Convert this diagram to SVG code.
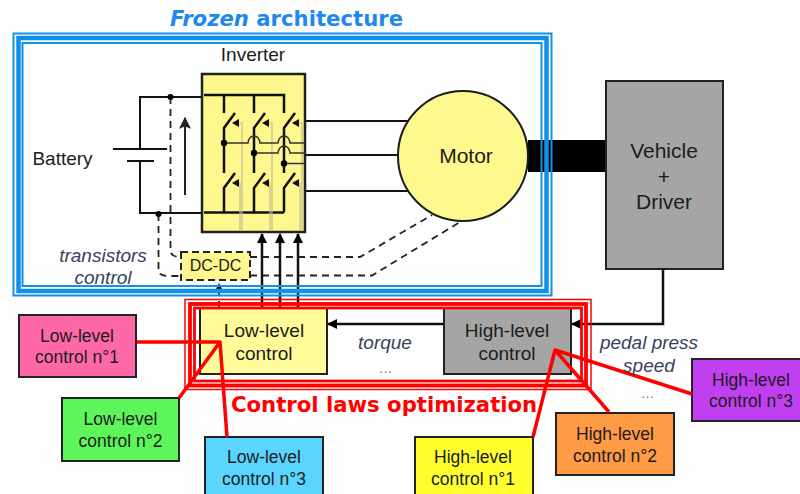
<svg xmlns="http://www.w3.org/2000/svg" width="800" height="494" viewBox="0 0 800 494">
<style>
text{font-family:"Liberation Sans",Arial,sans-serif;fill:#1c1c1c;text-anchor:middle}
.s19{font-size:19px}.s17{font-size:17.5px}.s21{font-size:21px}
.lab{font-size:19px;font-style:italic;fill:#38425c}
.dots{font-size:14px;font-style:italic;fill:#6a7080}
.head{font-family:"DejaVu Sans",sans-serif;font-weight:bold;font-size:21.2px;text-anchor:start}
.box{stroke:#222;stroke-width:2}
.w{fill:none;stroke:#111;stroke-width:2}
.b{fill:none;stroke:#111;stroke-width:2.500}
.t{fill:none;stroke:#333;stroke-width:1.500}
.g{fill:none;stroke:#c2bd95;stroke-width:1.200}
.d{fill:none;stroke:#222;stroke-width:1.800;stroke-dasharray:7 5}
.r{fill:none;stroke:#f00;stroke-width:3.500;stroke-linejoin:round}
.fb{fill:none;stroke:#1190ea}
.fr{fill:none;stroke:#f00}
</style>
<defs>
<marker id="arr" viewBox="0 0 10 10" refX="9" refY="5" markerWidth="10" markerHeight="10" markerUnits="userSpaceOnUse" orient="auto"><path d="M0 0L10 5L0 10Z" fill="#000"/></marker>
<marker id="arrL" viewBox="0 0 10 10" refX="9" refY="5" markerWidth="12" markerHeight="12" markerUnits="userSpaceOnUse" orient="auto"><path d="M0 0L10 5L0 10L2 5Z" fill="#222"/></marker>
</defs>
<rect width="800" height="494" fill="#fefefe"/>

<g id="connectors">
<rect x="528" y="140" width="78" height="32" fill="#000"/>
<path class="w" d="M202 97H140V149M113 149H167M127 161H154M140 161V213H202"/>
<path d="M185 195V118" fill="none" stroke="#222" stroke-width="2" marker-end="url(#arrL)"/>
<path class="d" d="M170.500 97V250Q170.500 257 180 257"/>
<path class="d" d="M158.500 214V270Q158.500 276 168 276H181"/>
<path class="d" d="M250 257H360L432 215"/>
<path class="d" d="M250 275.500H372L460 222"/>
<path class="w" d="M305 121H412M305 155H398M305 191H412"/>
<path class="b" d="M262 308V234" marker-end="url(#arr)"/>
<path class="b" d="M280 308V234" marker-end="url(#arr)"/>
<path class="b" d="M298 308V234" marker-end="url(#arr)"/>
<path class="d" d="M219 308V284" marker-end="url(#arr)" stroke-width="2.500"/>
<path class="b" d="M444 324H328" marker-end="url(#arr)"/>
<path class="b" d="M663 269V324H572" marker-end="url(#arr)"/>
<circle cx="170.500" cy="97" r="3"/>
<circle cx="158.500" cy="214" r="3"/>
</g>

<g id="inverter">
<rect x="202" y="74" width="103" height="158" fill="#fdf78e" stroke="#222" stroke-width="2.500"/>
<path class="b" d="M204 95H284V113M224 95V113M254 95V113"/>
<path class="b" d="M204 212.500H284M224 212.500V188L235 173M254 212.500V188L265 173M284 212.500V188L295 173"/>
<path class="b" d="M224 173V128L235 113M254 173V128L265 113M284 173V128L295 113"/>
<path class="g" d="M233 123H242V230M263 123H272V230M293 123H302V230M233 183H240V230M263 183H270V230M293 183H300V230"/>
<path d="M232 123l7-4v8zM262 123l7-4v8zM292 123l7-4v8zM232 183l7-4v8zM262 183l7-4v8zM292 183l7-4v8z" fill="#111"/>
<path class="t" d="M224 143H248Q249 136 254 136T260 143H278Q279 136 284 136T290 143H305M254 153H278Q279 146 284 146T290 153H305M284 163.500H305"/>
<circle cx="224" cy="143" r="3.200"/><circle cx="254" cy="153" r="3.200"/><circle cx="284" cy="163.500" r="3.200"/>
<text class="s19" x="253" y="61">Inverter</text>
</g>
<g id="battery"><text class="s19" x="62.500" y="165">Battery</text></g>
<g id="motor"><circle cx="463" cy="156" r="65" fill="#fdf98e" stroke="#1c1c1c" stroke-width="2"/><text class="s21" x="466" y="163">Motor</text></g>
<g id="vehicle"><rect class="box" x="606" y="81" width="117" height="188" fill="#a5a5a5"/><text class="s21" x="664" y="158">Vehicle</text><text class="s21" x="664" y="184">+</text><text class="s21" x="664" y="209">Driver</text></g>
<g id="dcdc"><rect x="181" y="252" width="69" height="28" fill="#fdf78e" stroke="#222" stroke-width="2" stroke-dasharray="7 4"/><text x="215.500" y="271" font-size="16">DC-DC</text></g>
<g id="low-level"><rect class="box" x="200" y="308" width="127" height="66" fill="#fffb99"/><text class="s19" x="264" y="337">Low-level</text><text class="s19" x="264" y="360">control</text></g>
<g id="high-level"><rect class="box" x="444" y="308" width="127" height="66" fill="#a5a5a5"/><text class="s19" x="507" y="337">High-level</text><text class="s19" x="507" y="360">control</text></g>
<g id="low1"><rect class="box" x="19" y="315" width="117" height="62" fill="#ff68a8"/><text class="s17" x="77" y="342">Low-level</text><text class="s17" x="77" y="363">control n°1</text></g>
<g id="low2"><rect class="box" x="62" y="398" width="117" height="63" fill="#5cf55a"/><text class="s17" x="120.500" y="425">Low-level</text><text class="s17" x="120.500" y="447">control n°2</text></g>
<g id="low3"><rect class="box" x="205" y="437" width="118" height="63" fill="#5ad5ff"/><text class="s17" x="264" y="463">Low-level</text><text class="s17" x="264" y="485">control n°3</text></g>
<g id="high1"><rect class="box" x="415" y="437" width="118" height="63" fill="#ffff2e"/><text class="s17" x="473" y="463">High-level</text><text class="s17" x="473" y="485">control n°1</text></g>
<g id="high2"><rect class="box" x="556" y="413" width="118" height="62" fill="#ff9a45"/><text class="s17" x="615" y="440">High-level</text><text class="s17" x="615" y="462">control n°2</text></g>
<g id="high3"><rect class="box" x="692" y="359" width="118" height="62" fill="#c03ff0"/><text class="s17" x="751" y="386">High-level</text><text class="s17" x="751" y="407">control n°3</text></g>

<g id="frozen-frame">
<rect class="fb" x="13.500" y="33.500" width="538" height="262" stroke-width="2"/>
<rect class="fb" x="18.500" y="38" width="528" height="253" stroke-width="4.500"/>
<rect class="fb" x="22.500" y="43" width="519" height="243" stroke-width="2"/>
</g>
<g id="control-frame">
<rect class="fr" x="185" y="299.500" width="406" height="90" stroke-width="1.500"/>
<rect class="fr" x="190" y="304" width="396" height="81.500" stroke-width="3.800"/>
<rect class="fr" x="194.500" y="308" width="387" height="73" stroke-width="2.800"/>
</g>

<g id="control-links">
<path class="r" d="M137 342H220M179 398L220 342L227 437"/>
<path class="r" d="M533 437L555 350L609 412M555 350L692 394"/>
</g>

<g id="labels">
<text class="head" x="170" y="26" style="fill:#1e88ee"><tspan font-style="italic">Frozen</tspan> architecture</text>
<text class="head" x="231" y="412" style="fill:#f00">Control laws optimization</text>
<text class="lab" x="103" y="262">transistors</text><text class="lab" x="103" y="284">control</text>
<text class="lab" x="385" y="349">torque</text><text class="dots" x="386" y="373">…</text>
<text class="lab" x="649" y="349">pedal press</text><text class="lab" x="649" y="372">speed</text><text class="dots" x="648" y="398">…</text>
</g>
</svg>
